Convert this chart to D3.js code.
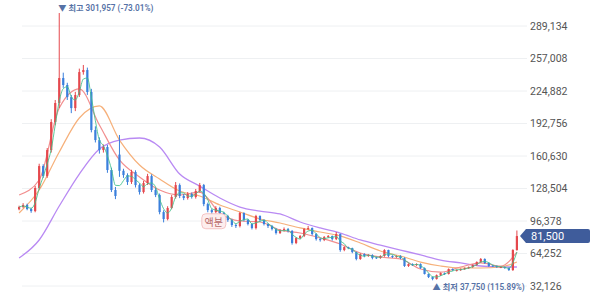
<!DOCTYPE html>
<html>
<head>
<meta charset="utf-8">
<script src="https://cdn.jsdelivr.net/npm/d3@7"></script>
<style>
  html, body { margin: 0; padding: 0; background: #fff; }
  svg { display: block; }
</style>
</head>
<body>
<svg id="chart" width="600" height="300"></svg>
<script>
// prices in thousands of won, one candle per period
const opens = [108.0,110.2,112.2,108.2,106.2,129.0,150.7,140.8,166.5,194.2,213.0,237.7,230.8,218.9,208.0,220.9,243.6,245.6,223.9,186.3,
  176.4,166.5,169.5,146.8,127.0,162.0,146.0,141.8,134.9,144.8,131.9,125.0,133.9,140.8,127.0,122.0,105.2,98.3,109.2,120.1,
  131.9,121.1,119.1,123.0,120.1,126.0,131.9,113.1,107.2,105.2,109.2,104.3,101.3,97.3,92.4,91.4,104.3,97.3,93.4,89.4,
  101.3,97.3,93.4,91.4,88.4,84.5,87.4,88.4,86.5,74.6,79.5,81.5,88.4,89.4,83.5,78.5,77.6,80.5,81.5,78.5,
  83.5,67.7,70.6,69.6,65.7,58.8,63.7,61.8,62.7,60.5,59.8,61.8,67.7,61.8,60.8,61.8,59.8,51.9,53.8,52.9,
  53.8,49.9,44.0,41.0,39.0,42.9,44.9,44.0,48.9,47.4,47.9,48.9,49.9,50.9,52.9,55.8,58.8,54.8,52.4,51.9,
  50.4,50.9,49.9,47.9,67.7]
const closes = [110.2,112.2,108.2,106.2,129.0,150.7,140.8,166.5,194.2,213.0,237.7,230.8,218.9,208.0,220.9,243.6,245.6,223.9,186.3,176.4,
  166.5,169.5,146.8,127.0,121.1,146.0,141.8,134.9,144.8,131.9,125.0,133.9,140.8,127.0,122.0,105.2,98.3,109.2,120.1,131.9,
  121.1,119.1,123.0,120.1,126.0,131.9,113.1,107.2,105.2,109.2,104.3,101.3,97.3,92.4,91.4,104.3,97.3,93.4,89.4,101.3,
  97.3,93.4,91.4,88.4,84.5,87.4,88.4,86.5,74.6,79.5,81.5,88.4,89.4,83.5,78.5,77.6,80.5,81.5,78.5,83.5,
  67.7,70.6,69.6,65.7,58.8,63.7,61.8,62.7,59.8,59.8,61.8,67.7,61.8,60.8,61.8,59.8,51.9,53.8,52.9,53.8,
  49.9,44.0,41.0,39.0,42.9,44.9,44.0,48.9,47.9,47.9,48.9,49.9,50.9,52.9,55.8,58.8,54.8,51.9,51.9,50.9,
  50.9,49.9,47.9,67.7,81.5]
const highs = [111.5,114.0,113.5,109.5,131.0,153.0,152.5,168.5,197.0,216.0,301.957,243.0,233.0,221.0,224.0,247.0,250.6,248.0,227.0,190.0,
  179.0,172.0,171.5,149.0,130.0,181.4,148.0,143.5,147.0,146.5,133.5,136.0,143.0,142.5,129.0,123.5,107.0,111.0,122.0,134.9,
  133.5,123.0,125.0,124.5,128.0,134.0,133.0,114.5,108.5,111.0,110.5,105.5,102.5,98.5,93.5,105.5,105.0,98.5,94.5,102.5,
  102.0,98.0,94.0,92.5,89.5,88.5,90.0,89.5,87.5,80.5,82.5,89.5,91.5,90.0,84.5,79.5,81.5,82.5,82.0,85.5,
  84.0,71.5,71.0,70.0,66.0,64.5,64.5,63.5,63.5,61.0,62.5,68.5,68.0,62.5,62.5,62.5,60.5,54.5,54.5,54.5,
  54.5,50.5,44.5,41.5,43.5,45.5,45.5,49.5,49.5,48.5,49.5,50.5,51.5,53.5,56.5,59.8,59.5,55.5,52.8,52.5,
  51.5,51.5,50.5,68.5,87.0]
const lows = [107.0,109.0,107.0,104.5,105.0,127.5,139.0,139.0,164.0,191.0,208.0,228.0,216.0,203.0,205.0,219.0,241.0,221.0,184.0,174.0,
  163.0,164.0,144.0,125.0,118.0,140.0,139.0,132.0,133.0,129.5,122.5,123.5,132.0,125.0,120.0,103.0,95.0,97.0,108.0,118.5,
  119.0,117.0,117.5,118.5,118.5,124.5,111.0,105.0,103.5,104.0,102.5,99.5,95.5,90.5,89.5,90.0,96.0,92.0,88.0,88.0,
  96.0,92.0,89.5,87.0,83.0,83.5,86.0,85.0,73.0,73.5,78.5,80.5,87.5,82.0,77.0,76.0,76.5,79.5,77.0,77.5,
  66.0,66.5,68.5,64.5,57.5,58.0,60.5,61.0,58.5,58.8,59.0,61.0,60.5,59.8,60.0,58.5,51.0,51.0,52.0,52.0,
  49.0,43.5,40.0,37.75,38.5,42.0,43.0,43.5,47.0,46.5,47.0,48.0,49.0,50.0,52.0,55.0,54.0,51.0,51.0,50.0,
  49.8,49.0,47.0,47.0,67.0]

// moving averages, at every 5th candle (last one at the final candle)
const maIndex = [0,5,10,15,20,25,30,35,40,45,50,55,60,65,70,75,80,85,90,95,100,105,110,115,120,124]
const ma20 = [122.1,136.9,208.0,226.9,191.3,156.7,139.9,127.0,122.1,125.0,104.3,96.4,95.4,87.5,84.5,79.6,73.6,64.7,60.8,58.8,48.9,45.9,50.9,54.9,51.9,65.7]
const ma60 = [104.3,127.0,164.6,198.2,210.1,176.4,151.7,137.9,126.0,121.1,112.2,105.3,98.4,94.4,89.5,85.5,81.6,74.6,66.7,61.8,55.8,51.9,49.9,49.9,50.9,55.8]
const ma120 = [59.8,77.6,111.2,142.8,167.5,176.4,178.4,169.5,142.8,130.9,119.1,110.2,106.2,103.3,95.4,89.5,84.5,77.6,72.6,67.7,62.8,57.8,54.9,51.9,50.9,50.9]

const tickValues = [32126, 64252, 96378, 128504, 160630, 192756, 224882, 257008, 289134]
const highLabel = '▼ 최고 301,957 (-73.01%)'
const lowLabel = '▲ 최저 37,750 (115.89%)'
const lastLabel = '81,500'
const splitLabel = '액분'
const splitIndex = 48

const FONT = "Roboto, 'Noto Sans CJK KR', sans-serif"
const UP = '#e5484d'
const DOWN = '#3a7fdc'

const svg = d3.select('#chart')
const idx = d3.range(closes.length)

const x = d3.scaleBand().domain(idx).range([18, 518]).paddingInner(0.45)
const cx = i => x(i) + x.bandwidth() / 2
const y = d3.scaleLinear().domain([32126, 289134]).range([286, 26])
const yk = v => y(v * 1000)

// grid
svg.append('g')
  .selectAll('line')
  .data(tickValues)
  .join('line')
  .attr('x1', 22).attr('x2', 527)
  .attr('y1', d => y(d)).attr('y2', d => y(d))
  .attr('stroke', '#eef0f2')
  .attr('stroke-width', 1)

const axis = svg.append('g')
  .attr('transform', 'translate(527,0)')
  .call(d3.axisRight(y).tickValues(tickValues).tickSize(0).tickPadding(3).tickFormat(d3.format(',')))
axis.select('.domain').remove()
axis.selectAll('text')
  .attr('font-family', FONT)
  .attr('font-size', 10.5)
  .attr('fill', '#555')

// moving averages
const maLine = d3.line()
  .x((d, k) => cx(maIndex[k]))
  .y(d => yk(d))
  .curve(d3.curveMonotoneX)

const maG = svg.append('g').attr('fill', 'none')
maG.append('path').attr('d', maLine(ma120)).attr('stroke', '#b98af3').attr('stroke-width', 1.3)
maG.append('path').attr('d', maLine(ma60)).attr('stroke', '#f6b07a').attr('stroke-width', 1.2)
maG.append('path').attr('d', maLine(ma20)).attr('stroke', '#f28f8f').attr('stroke-width', 1.2)

// candles
const candleG = svg.append('g')
candleG.selectAll('line')
  .data(idx)
  .join('line')
  .attr('x1', cx).attr('x2', cx)
  .attr('y1', i => yk(highs[i]))
  .attr('y2', i => yk(lows[i]))
  .attr('stroke', i => closes[i] >= opens[i] ? UP : DOWN)
  .attr('stroke-width', 1)

candleG.selectAll('rect')
  .data(idx)
  .join('rect')
  .attr('x', i => x(i))
  .attr('width', x.bandwidth())
  .attr('y', i => yk(Math.max(opens[i], closes[i])))
  .attr('height', i => Math.max(1, Math.abs(yk(opens[i]) - yk(closes[i]))))
  .attr('fill', i => closes[i] >= opens[i] ? UP : DOWN)

// short average over the closes
const ma3 = idx.map(i => d3.mean(closes.slice(Math.max(0, i - 2), i + 1)))
svg.append('path')
  .attr('d', d3.line().x((d, i) => cx(i)).y(d => yk(d)).curve(d3.curveMonotoneX)(ma3))
  .attr('fill', 'none')
  .attr('stroke', '#3fbf8a')
  .attr('stroke-width', 1)
  .attr('opacity', 0.85)

// high / low annotations
const hiIdx = highs.indexOf(d3.max(highs))
const loIdx = lows.indexOf(d3.min(lows))
svg.append('text')
  .attr('x', cx(hiIdx) - 1)
  .attr('y', yk(highs[hiIdx]) - 2)
  .attr('font-family', FONT)
  .attr('font-size', 8.2)
  .attr('font-weight', 600)
  .attr('fill', '#5672a6')
  .text(highLabel)

svg.append('text')
  .attr('x', cx(loIdx))
  .attr('y', yk(lows[loIdx]) + 10)
  .attr('font-family', FONT)
  .attr('font-size', 8.2)
  .attr('font-weight', 600)
  .attr('fill', '#5672a6')
  .text(lowLabel)

// split marker
const splitG = svg.append('g')
  .attr('transform', `translate(${cx(splitIndex) + 2}, ${yk(highs[splitIndex]) + 12})`)
splitG.append('rect')
  .attr('x', -12).attr('y', -7).attr('width', 24).attr('height', 15)
  .attr('rx', 4)
  .attr('fill', '#fdeeee')
  .attr('stroke', '#f2b7b7')
  .attr('stroke-width', 0.8)
splitG.append('text')
  .attr('text-anchor', 'middle')
  .attr('dominant-baseline', 'central')
  .attr('y', 0.5)
  .attr('font-family', "'Noto Sans CJK KR', sans-serif")
  .attr('font-size', 10)
  .attr('fill', '#b86a6a')
  .text(splitLabel)

// last price tag
const lastY = yk(closes[closes.length - 1])
const tag = svg.append('g').attr('transform', `translate(520, ${lastY})`)
tag.append('path')
  .attr('d', 'M0,0 L6,-7 L68,-7 Q70,-7 70,-5 L70,5 Q70,7 68,7 L6,7 Z')
  .attr('fill', '#3f5c9b')
tag.append('text')
  .attr('x', 11)
  .attr('dominant-baseline', 'central')
  .attr('y', 0.5)
  .attr('font-family', FONT)
  .attr('font-size', 11)
  .attr('fill', '#fff')
  .text(lastLabel)
</script>
</body>
</html>
